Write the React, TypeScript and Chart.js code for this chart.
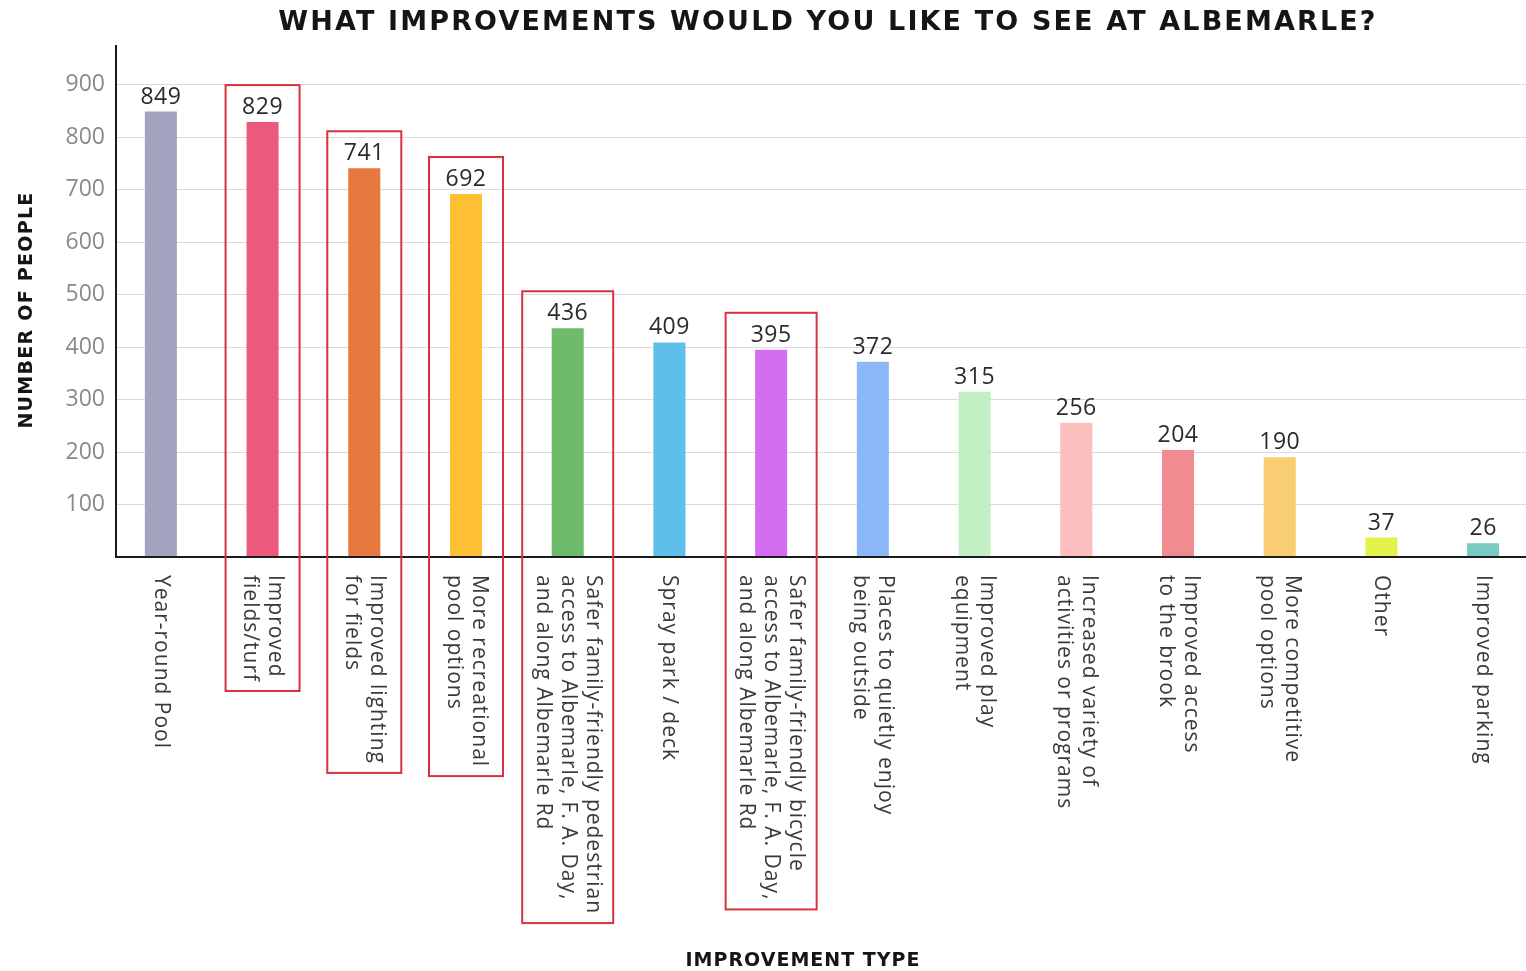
import React, { useEffect, useRef } from 'react';
import { Chart, registerables } from 'chart.js';

Chart.register(...registerables);

// ---------- data ----------
const categories: string[][] = [
  ['Year-round Pool'],
  ['Improved', 'fields/turf'],
  ['Improved lighting', 'for fields'],
  ['More recreational', 'pool options'],
  ['Safer family-friendly pedestrian', 'access to Albemarle, F. A. Day,', 'and along Albemarle Rd'],
  ['Spray park / deck'],
  ['Safer family-friendly bicycle', 'access to Albemarle, F. A. Day,', 'and along Albemarle Rd'],
  ['Places to quietly enjoy', 'being outside'],
  ['Improved play', 'equipment'],
  ['Increased variety of', 'activities or programs'],
  ['Improved access', 'to the brook'],
  ['More competitive', 'pool options'],
  ['Other'],
  ['Improved parking'],
];
const counts: number[] = [849, 829, 741, 692, 436, 409, 395, 372, 315, 256, 204, 190, 37, 26];
const boxed: boolean[] = [false, true, true, true, true, false, true, false, false, false, false, false, false, false];
const barColors: string[] = [
  '#a2a4bf', '#ec5a7b', '#e7793f', '#fcc032', '#6ebc6b', '#5ebfeb', '#d46ef0',
  '#8cb8f7', '#c3efc5', '#fdbfbe', '#ef8b91', '#f9ce72', '#e4f34b', '#79cac4',
];
const yTickValues: number[] = [0, 100, 200, 300, 400, 500, 600, 700, 800, 900];
const yMax = 976;
const titleText = 'WHAT IMPROVEMENTS WOULD YOU LIKE TO SEE AT ALBEMARLE?';
const yAxisTitle = 'NUMBER OF PEOPLE';
const xAxisTitle = 'IMPROVEMENT TYPE';

// ---------- styles ----------
const FONT = '"Open Sans", "DejaVu Sans", sans-serif';
const BOLD_FONT = '"DejaVu Sans", "Open Sans", sans-serif';
const LINE_H = 25;

function fitText(ctx: CanvasRenderingContext2D, text: string, target: number) {
  (ctx as any).letterSpacing = '0px';
  const w = ctx.measureText(text).width;
  const ls = (target - w) / Math.max(1, text.length - 1);
  (ctx as any).letterSpacing = ls.toFixed(2) + 'px';
}

const decorPlugin = {
  id: 'decor',
  afterDraw(chart: any) {
    const { ctx, chartArea } = chart;
    const xs = chart.scales.x;
    const ys = chart.scales.y;
    const axisX = chartArea.left + 6;
    const baseY = ys.getPixelForValue(0);
    ctx.save();

    // clean the grid lines left of the axis
    ctx.fillStyle = '#ffffff';
    ctx.fillRect(chartArea.left - 1, chartArea.top - 2, axisX - chartArea.left, baseY - chartArea.top + 4);

    // axes
    ctx.strokeStyle = '#1a1a1a';
    ctx.lineWidth = 2;
    ctx.beginPath();
    ctx.moveTo(axisX, chartArea.top);
    ctx.lineTo(axisX, baseY + 1);
    ctx.moveTo(axisX, baseY);
    ctx.lineTo(chartArea.right, baseY);
    ctx.stroke();

    // value labels
    ctx.font = `23px ${FONT}`;
    (ctx as any).letterSpacing = '0.5px';
    ctx.fillStyle = '#2b2b2b';
    ctx.textAlign = 'center';
    ctx.textBaseline = 'alphabetic';
    const meta = chart.getDatasetMeta(0);
    meta.data.forEach((bar: any, i: number) => {
      ctx.fillText(String(counts[i]), bar.x, bar.y - 8);
    });

    // x tick labels (rotated clockwise)
    const labelTop = baseY + 18;
    ctx.font = `21px ${FONT}`;
    (ctx as any).letterSpacing = '1px';
    ctx.fillStyle = '#3a3a3a';
    ctx.textAlign = 'left';
    ctx.textBaseline = 'middle';
    const extents: number[] = [];
    categories.forEach((lines, i) => {
      const cx = xs.getPixelForValue(i);
      let maxW = 0;
      ctx.save();
      ctx.translate(cx, labelTop);
      ctx.rotate(Math.PI / 2);
      lines.forEach((ln, j) => {
        const off = (j - (lines.length - 1) / 2) * LINE_H;
        ctx.fillText(ln, 0, off);
        maxW = Math.max(maxW, ctx.measureText(ln).width);
      });
      ctx.restore();
      extents.push(maxW);
    });
    (ctx as any).letterSpacing = '0px';

    // red boxes
    ctx.strokeStyle = '#d8323e';
    ctx.lineWidth = 2;
    categories.forEach((lines, i) => {
      if (!boxed[i]) return;
      const cx = xs.getPixelForValue(i);
      const hw = Math.max(37, (lines.length * LINE_H) / 2 + 8);
      const top = ys.getPixelForValue(counts[i]) - 37;
      const bottom = labelTop + extents[i] + 9;
      ctx.strokeRect(cx - hw, top, hw * 2, bottom - top);
    });

    // main title
    ctx.fillStyle = '#151515';
    ctx.font = `bold 27px ${BOLD_FONT}`;
    ctx.textAlign = 'center';
    ctx.textBaseline = 'middle';
    fitText(ctx, titleText, 1097);
    ctx.fillText(titleText, 828, 23);

    // y axis title
    ctx.font = `bold 19px ${BOLD_FONT}`;
    fitText(ctx, yAxisTitle, 236);
    ctx.save();
    ctx.translate(27, (chartArea.top + baseY) / 2 + 9);
    ctx.rotate(-Math.PI / 2);
    ctx.fillText(yAxisTitle, 0, 0);
    ctx.restore();

    // x axis title
    ctx.font = `bold 19px ${BOLD_FONT}`;
    fitText(ctx, xAxisTitle, 234);
    ctx.fillText(xAxisTitle, (chartArea.left + chartArea.right) / 2 - 19, 961);
    (ctx as any).letterSpacing = '0px';
    ctx.restore();
  },
};

export default function App() {
  const ref = useRef<HTMLCanvasElement | null>(null);
  useEffect(() => {
    if (!ref.current) return;
    const chart = new Chart(ref.current, {
      type: 'bar',
      data: {
        labels: categories,
        datasets: [
          {
            data: counts,
            backgroundColor: barColors,
            borderWidth: 0,
            barPercentage: 0.315,
            categoryPercentage: 1,
          },
        ],
      },
      options: {
        responsive: false,
        animation: false,
        devicePixelRatio: 1,
        layout: { padding: { top: 45, bottom: 414, left: 0, right: 0 } },
        plugins: {
          legend: { display: false },
          title: { display: false },
          tooltip: { enabled: false },
        },
        scales: {
          x: {
            type: 'category',
            offset: true,
            grid: { display: false, drawTicks: false },
            border: { display: false },
            ticks: { display: false },
            afterFit: (s: any) => { s.height = 0; },
          },
          y: {
            min: 0,
            max: yMax,
            afterBuildTicks: (s: any) => { s.ticks = yTickValues.map((v) => ({ value: v })); },
            afterFit: (s: any) => { s.width = 110; },
            grid: { color: '#dadada', lineWidth: 1, drawTicks: false },
            border: { display: false },
            ticks: {
              padding: 5,
              color: '#8a8a8a',
              font: { family: FONT, size: 23 },
              callback: (v: any) => (Number(v) === 0 ? '' : String(v)),
            },
          },
        },
      },
      plugins: [decorPlugin],
    } as any);
    return () => chart.destroy();
  }, []);

  return (
    <div style={{ position: 'absolute', left: 0, top: 0, width: 1526, height: 971, overflow: 'hidden', background: '#ffffff' }}>
      <canvas ref={ref} width={1534} height={971} style={{ display: 'block', width: 1534, height: 971 }} />
    </div>
  );
}
